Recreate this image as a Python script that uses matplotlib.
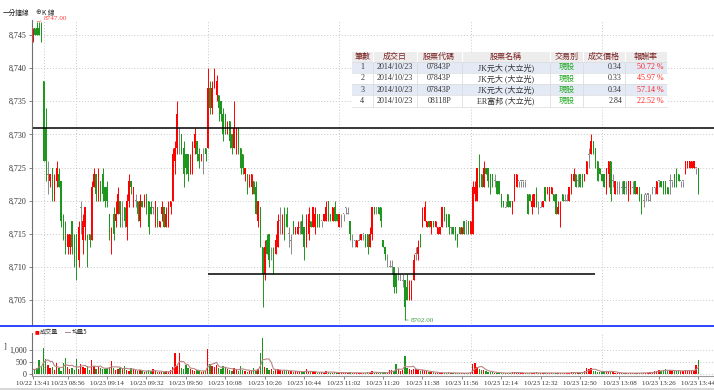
import matplotlib
matplotlib.use('Agg')
import matplotlib.pyplot as plt
from matplotlib.patches import Rectangle
import numpy as np
import pandas as pd

# ---- data: one-minute candles (5 from 10/22 close, then 10/23 08:45-13:44) ----
opens = [
    8744, 8746, 8746, 8746, 8746, 8738, 8731, 8724, 8723, 8725,
    8721, 8723, 8724, 8723, 8717, 8716, 8713, 8713, 8717, 8713,
    8715, 8711, 8719, 8714, 8716, 8714, 8715, 8714, 8722, 8724,
    8721, 8723, 8724, 8722, 8722, 8718, 8714, 8718, 8717, 8718,
    8720, 8719, 8719, 8716, 8720, 8723, 8721, 8720, 8720, 8717,
    8720, 8719, 8721, 8720, 8719, 8719, 8718, 8719, 8716, 8718,
    8719, 8716, 8717, 8719, 8720, 8726, 8728, 8730, 8730, 8728,
    8727, 8727, 8724, 8724, 8728, 8729, 8727, 8726, 8727, 8728,
    8728, 8737, 8734, 8737, 8736, 8736, 8735, 8733, 8733, 8730,
    8732, 8730, 8728, 8729, 8731, 8728, 8727, 8724, 8724, 8722,
    8722, 8723, 8722, 8717, 8719, 8713, 8709, 8714, 8715, 8712,
    8712, 8712, 8713, 8717, 8715, 8718, 8718, 8715, 8714, 8717,
    8715, 8715, 8716, 8717, 8716, 8714, 8715, 8717, 8716, 8716,
    8718, 8718, 8717, 8717, 8717, 8720, 8718, 8717, 8719, 8718,
    8716, 8717, 8718, 8719, 8718, 8717, 8714, 8714, 8713, 8714,
    8714, 8715, 8715, 8715, 8713, 8715, 8719, 8719, 8719, 8719,
    8714, 8713, 8711, 8710, 8710, 8710, 8709, 8709, 8708, 8708,
    8708, 8707, 8705, 8705, 8708, 8712, 8712, 8715, 8716, 8717,
    8716, 8717, 8716, 8717, 8716, 8715, 8715, 8716, 8719, 8718,
    8718, 8716, 8716, 8716, 8715, 8716, 8715, 8717, 8717, 8717,
    8715, 8715, 8721, 8720, 8725, 8724, 8722, 8725, 8725, 8724,
    8724, 8723, 8723, 8723, 8721, 8720, 8719, 8721, 8720, 8719,
    8720, 8722, 8723, 8723, 8723, 8723, 8721, 8721, 8719, 8719,
    8721, 8719, 8719, 8719, 8722, 8721, 8720, 8721, 8721, 8721,
    8718, 8717, 8721, 8720, 8720, 8720, 8722, 8723, 8724, 8723,
    8724, 8724, 8723, 8724, 8727, 8727, 8729, 8728, 8726, 8725,
    8724, 8724, 8723, 8724, 8726, 8723, 8721, 8722, 8722, 8722,
    8723, 8722, 8721, 8721, 8722, 8723, 8721, 8722, 8721, 8720,
    8721, 8721, 8720, 8722, 8722, 8721, 8723, 8723, 8723, 8723,
    8722, 8723, 8723, 8724, 8724, 8724, 8723, 8723, 8724, 8725,
    8725, 8725, 8725, 8725, 8725,
]
closes = [
    8746, 8745, 8745, 8745, 8745, 8726, 8726, 8724, 8724, 8722,
    8723, 8725, 8722, 8717, 8716, 8713, 8715, 8715, 8713, 8712,
    8711, 8716, 8719, 8717, 8719, 8713, 8714, 8722, 8724, 8721,
    8724, 8721, 8721, 8720, 8720, 8716, 8715, 8715, 8718, 8721,
    8718, 8719, 8717, 8720, 8723, 8722, 8722, 8720, 8718, 8720,
    8719, 8720, 8719, 8716, 8718, 8719, 8720, 8716, 8717, 8719,
    8716, 8718, 8719, 8720, 8727, 8728, 8733, 8730, 8727, 8724,
    8725, 8724, 8726, 8728, 8730, 8727, 8726, 8727, 8727, 8727,
    8737, 8734, 8737, 8739, 8738, 8734, 8733, 8730, 8731, 8731,
    8729, 8728, 8731, 8731, 8728, 8725, 8725, 8725, 8722, 8723,
    8724, 8721, 8718, 8720, 8713, 8709, 8713, 8712, 8711, 8712,
    8710, 8714, 8717, 8717, 8717, 8715, 8716, 8715, 8714, 8715,
    8716, 8716, 8716, 8715, 8713, 8717, 8718, 8716, 8719, 8718,
    8717, 8717, 8717, 8718, 8719, 8717, 8717, 8719, 8717, 8717,
    8718, 8717, 8718, 8719, 8718, 8715, 8714, 8714, 8714, 8714,
    8715, 8715, 8714, 8713, 8715, 8719, 8718, 8719, 8718, 8717,
    8713, 8712, 8711, 8710, 8710, 8707, 8707, 8709, 8708, 8708,
    8704, 8705, 8707, 8707, 8711, 8712, 8713, 8714, 8718, 8719,
    8717, 8716, 8717, 8716, 8717, 8716, 8716, 8719, 8717, 8717,
    8716, 8716, 8715, 8715, 8714, 8715, 8716, 8715, 8717, 8715,
    8717, 8722, 8722, 8725, 8723, 8722, 8725, 8724, 8723, 8722,
    8723, 8723, 8721, 8721, 8719, 8719, 8719, 8719, 8719, 8720,
    8724, 8724, 8723, 8723, 8723, 8723, 8718, 8720, 8720, 8721,
    8719, 8719, 8719, 8720, 8720, 8722, 8722, 8722, 8720, 8718,
    8719, 8719, 8720, 8720, 8720, 8722, 8724, 8724, 8722, 8723,
    8722, 8722, 8724, 8726, 8727, 8729, 8727, 8726, 8723, 8724,
    8723, 8722, 8725, 8726, 8721, 8723, 8723, 8722, 8722, 8722,
    8721, 8722, 8723, 8723, 8722, 8721, 8722, 8720, 8719, 8720,
    8721, 8721, 8720, 8722, 8722, 8723, 8723, 8722, 8721, 8721,
    8721, 8723, 8723, 8722, 8722, 8723, 8723, 8723, 8726, 8726,
    8726, 8726, 8726, 8725, 8721,
]
highs = [
    8746, 8746, 8747, 8747, 8747, 8738, 8734, 8726, 8724, 8725,
    8724, 8726, 8725, 8723, 8718, 8717, 8715, 8715, 8717, 8715,
    8715, 8717, 8720, 8718, 8719, 8715, 8715, 8723, 8725, 8724,
    8725, 8723, 8725, 8722, 8723, 8718, 8716, 8719, 8720, 8722,
    8720, 8720, 8719, 8721, 8724, 8723, 8722, 8721, 8720, 8721,
    8720, 8721, 8721, 8720, 8720, 8719, 8720, 8719, 8717, 8720,
    8719, 8719, 8720, 8720, 8728, 8729, 8735, 8731, 8730, 8729,
    8727, 8727, 8727, 8729, 8731, 8729, 8728, 8727, 8728, 8728,
    8740, 8738, 8738, 8740, 8739, 8736, 8735, 8734, 8733, 8732,
    8732, 8730, 8735, 8731, 8731, 8728, 8727, 8725, 8724, 8724,
    8724, 8723, 8723, 8720, 8719, 8713, 8714, 8715, 8715, 8713,
    8713, 8715, 8718, 8719, 8718, 8719, 8719, 8716, 8715, 8717,
    8716, 8717, 8717, 8718, 8716, 8718, 8719, 8717, 8719, 8719,
    8718, 8718, 8717, 8718, 8720, 8720, 8718, 8719, 8720, 8718,
    8718, 8718, 8718, 8719, 8719, 8717, 8715, 8714, 8714, 8715,
    8715, 8715, 8715, 8715, 8716, 8719, 8719, 8719, 8719, 8719,
    8714, 8713, 8712, 8711, 8711, 8710, 8709, 8710, 8709, 8709,
    8708, 8709, 8708, 8708, 8712, 8713, 8714, 8715, 8719, 8720,
    8717, 8717, 8717, 8717, 8717, 8716, 8716, 8719, 8719, 8718,
    8718, 8716, 8716, 8716, 8715, 8716, 8716, 8717, 8717, 8717,
    8717, 8723, 8723, 8725, 8727, 8724, 8726, 8725, 8725, 8724,
    8724, 8724, 8723, 8723, 8721, 8720, 8720, 8721, 8720, 8720,
    8724, 8724, 8723, 8723, 8723, 8723, 8721, 8721, 8721, 8721,
    8722, 8720, 8720, 8720, 8722, 8722, 8722, 8722, 8721, 8721,
    8720, 8720, 8721, 8721, 8721, 8722, 8724, 8725, 8724, 8724,
    8724, 8724, 8724, 8726, 8728, 8730, 8729, 8728, 8726, 8725,
    8724, 8724, 8725, 8726, 8726, 8724, 8723, 8723, 8723, 8723,
    8723, 8723, 8723, 8723, 8723, 8723, 8722, 8722, 8721, 8721,
    8721, 8721, 8721, 8722, 8722, 8723, 8723, 8723, 8723, 8723,
    8722, 8724, 8723, 8724, 8725, 8724, 8723, 8723, 8726, 8726,
    8726, 8726, 8726, 8725, 8725,
]
lows = [
    8744, 8745, 8745, 8745, 8744, 8726, 8723, 8721, 8722, 8720,
    8720, 8722, 8722, 8716, 8714, 8712, 8712, 8712, 8712, 8710,
    8708, 8710, 8715, 8712, 8714, 8710, 8713, 8714, 8722, 8720,
    8720, 8720, 8720, 8719, 8719, 8714, 8712, 8714, 8716, 8718,
    8716, 8716, 8716, 8714, 8719, 8721, 8719, 8719, 8717, 8716,
    8719, 8719, 8718, 8715, 8718, 8718, 8716, 8716, 8716, 8717,
    8716, 8716, 8716, 8718, 8720, 8724, 8727, 8727, 8727, 8722,
    8724, 8723, 8724, 8724, 8727, 8726, 8725, 8726, 8724, 8726,
    8728, 8733, 8733, 8737, 8735, 8732, 8732, 8729, 8730, 8730,
    8728, 8727, 8728, 8727, 8727, 8724, 8724, 8723, 8721, 8722,
    8721, 8721, 8718, 8716, 8713, 8704, 8708, 8712, 8710, 8711,
    8709, 8712, 8713, 8715, 8715, 8714, 8716, 8713, 8712, 8715,
    8715, 8715, 8715, 8715, 8711, 8713, 8714, 8716, 8716, 8715,
    8716, 8716, 8716, 8717, 8717, 8717, 8717, 8717, 8717, 8717,
    8716, 8716, 8717, 8718, 8718, 8714, 8713, 8713, 8713, 8714,
    8714, 8714, 8713, 8712, 8713, 8714, 8718, 8718, 8718, 8716,
    8713, 8711, 8710, 8710, 8709, 8706, 8706, 8708, 8708, 8707,
    8702, 8705, 8705, 8705, 8708, 8711, 8711, 8713, 8716, 8717,
    8716, 8716, 8715, 8716, 8716, 8715, 8715, 8716, 8717, 8716,
    8715, 8715, 8715, 8714, 8713, 8715, 8715, 8715, 8715, 8715,
    8715, 8715, 8720, 8720, 8722, 8722, 8722, 8724, 8722, 8721,
    8722, 8722, 8721, 8721, 8719, 8719, 8719, 8719, 8719, 8718,
    8720, 8722, 8722, 8722, 8722, 8722, 8718, 8720, 8718, 8719,
    8719, 8718, 8719, 8719, 8720, 8721, 8720, 8721, 8720, 8718,
    8718, 8716, 8720, 8720, 8720, 8720, 8721, 8723, 8722, 8722,
    8722, 8722, 8723, 8724, 8725, 8727, 8727, 8725, 8723, 8724,
    8723, 8722, 8721, 8722, 8720, 8722, 8721, 8721, 8721, 8721,
    8721, 8721, 8720, 8721, 8721, 8721, 8721, 8720, 8718, 8719,
    8720, 8720, 8720, 8721, 8721, 8721, 8722, 8722, 8721, 8721,
    8721, 8721, 8722, 8722, 8722, 8723, 8722, 8722, 8724, 8725,
    8725, 8725, 8725, 8724, 8721,
]
volumes = [
    210, 190, 260, 580, 300, 1110, 620, 390, 250, 320, 180, 460, 280, 150, 460, 690, 300, 200, 250, 180,
    640, 230, 420, 300, 260, 330, 180, 580, 350, 220, 300, 280, 240, 200, 260, 310, 540, 250, 190, 230,
    280, 200, 330, 180, 150, 250, 200, 160, 120, 180, 140, 100, 130, 160, 120, 210, 130, 90, 110, 80,
    100, 140, 90, 170, 300, 900, 350, 890, 260, 220, 390, 250, 200, 180, 120, 160, 140, 110, 150, 150,
    1060, 420, 350, 300, 380, 250, 200, 330, 300, 220, 180, 150, 260, 200, 150, 350, 160, 120, 100, 140,
    180, 260, 150, 220, 900, 1500, 320, 280, 180, 200, 150, 170, 220, 160, 130, 180, 150, 120, 140, 110,
    130, 100, 120, 90, 110, 210, 100, 80, 90, 110, 70, 80, 90, 60, 140, 80, 70, 60, 90, 70,
    60, 80, 50, 70, 60, 80, 50, 60, 70, 40, 60, 50, 60, 80, 70, 150, 60, 50, 40, 60,
    80, 90, 70, 180, 160, 120, 420, 200, 150, 180, 770, 250, 220, 180, 240, 200, 180, 150, 160, 130,
    120, 100, 90, 80, 70, 60, 50, 70, 60, 50, 80, 40, 60, 50, 40, 60, 50, 40, 50, 60,
    80, 440, 490, 300, 220, 180, 160, 120, 100, 90, 80, 70, 60, 50, 60, 50, 40, 60, 50, 100,
    90, 60, 50, 40, 50, 60, 70, 50, 40, 60, 80, 50, 40, 60, 50, 70, 60, 50, 40, 60,
    50, 60, 40, 50, 60, 70, 80, 90, 60, 50, 70, 80, 150, 250, 240, 260, 150, 120, 100, 80,
    100, 120, 150, 130, 110, 90, 60, 50, 40, 60, 50, 40, 50, 60, 50, 40, 60, 50, 70, 60,
    50, 60, 80, 100, 120, 150, 180, 130, 160, 200, 150, 180, 140, 120, 150, 170, 130, 140, 160, 150,
    180, 160, 150, 370, 580,
]

tick_labels = ['10/22 13:41', '10/23 08:56', '10/23 09:14', '10/23 09:32', '10/23 09:50',
               '10/23 10:08', '10/23 10:26', '10/23 10:44', '10/23 11:02', '10/23 11:20',
               '10/23 11:38', '10/23 11:56', '10/23 12:14', '10/23 12:32', '10/23 12:50',
               '10/23 13:08', '10/23 13:26', '10/23 13:44']
grid_times = ['10/23 08:45', '10/23 09:00', '10/23 10:00', '10/23 11:00', '10/23 12:00', '10/23 13:00']

resist_level = 8731
support_level = 8709
support_span = ('10/23 10:00', '10/23 12:57')

table_header = ['筆數', '成交日', '股票代碼', '股票名稱', '交易別', '成交價格', '報酬率']
table_rows = [
    ['1', '2014/10/23', '07843P', 'JK元大 (大立光)', '現股', '0.34', '50.72 %'],
    ['2', '2014/10/23', '07843P', 'JK元大 (大立光)', '現股', '0.33', '45.97 %'],
    ['3', '2014/10/23', '07843P', 'JK元大 (大立光)', '現股', '0.34', '57.14 %'],
    ['4', '2014/10/23', '08118P', 'ER富邦 (大立光)', '現股', '2.84', '22.52 %'],
]

# minute labels for every candle
t_prev = pd.date_range('2014-10-22 13:41', periods=5, freq='min')
t_day = pd.date_range('2014-10-23 08:45', '2014-10-23 13:44', freq='min')
times = [t.strftime('%m/%d %H:%M') for t in t_prev.append(t_day)]
pos = {t: i for i, t in enumerate(times)}

RED, GREEN, GRAY = '#ff0000', '#1c961c', '#8a8a8a'
TICKFONT = ['Liberation Serif', 'DejaVu Sans']
CJK = ['Noto Sans CJK TC', 'DejaVu Sans']
TABFONT = ['Liberation Serif', 'Noto Sans CJK TC', 'DejaVu Sans']

W, H = 714, 390
fig = plt.figure(figsize=(W / 100, H / 100), dpi=100)
fig.patch.set_facecolor('white')


def box(l, t, r, b):
    return [l / W, 1 - b / H, (r - l) / W, (b - t) / H]


ax = fig.add_axes(box(31.7, 20, 714, 326))
axv = fig.add_axes(box(31.7, 333, 714, 376))

o = np.array(opens)
c = np.array(closes)
x = np.arange(len(o))
cols = np.where(c > o, RED, np.where(c < o, GREEN, GRAY))

# candles
ax.vlines(x, lows, highs, colors=cols, linewidth=0.7)
flat = c == o
body_b = np.minimum(o, c) - np.where(flat, 0.08, 0)
body_h = np.where(flat, 0.16, np.abs(c - o))
ax.bar(x, body_h, bottom=body_b, width=0.62, color=cols, linewidth=0)

xmax = (714 - 31.7) / 2.19 - 0.4
ax.set_xlim(-0.4, xmax)
ax.set_ylim(8701.08, 8747.26)
ax.set_yticks(range(8705, 8746, 5))
ax.set_yticklabels([f'{v:,}' for v in range(8705, 8746, 5)])
ax.set_xticks([])
ax.yaxis.grid(True, linestyle=(0, (1, 2)), color='#c8c8c8', linewidth=0.7)
ax.set_axisbelow(True)
for t in grid_times:
    ax.axvline(pos[t], linestyle=(0, (1, 2)), color='#c8c8c8', linewidth=0.7, zorder=0)
for s in ['top', 'right', 'bottom']:
    ax.spines[s].set_visible(False)
ax.spines['left'].set_color('#707070')
ax.tick_params(axis='y', length=2, width=0.6, color='#707070', pad=1.5,
               labelsize=5.8, labelcolor='#333333')
for lab in ax.get_yticklabels():
    lab.set_fontfamily(TICKFONT)

ax.axhline(resist_level, color='black', linewidth=1.1)
ax.hlines(support_level, pos[support_span[0]], pos[support_span[1]], color='black', linewidth=1.1)

# high / low labels
ih = int(np.argmax(highs))
ax.annotate(f'{highs[ih]:.2f}', xy=(ih, highs[ih]), xytext=(5, 2.5), textcoords='offset points',
            fontsize=5.2, color='#ff4040', va='center', ha='left', family=TICKFONT,
            arrowprops=dict(arrowstyle='-', color='#ff6060', lw=0.5, shrinkA=0, shrinkB=0),
            annotation_clip=False)
il = int(np.argmin(lows))
ax.annotate(f'{lows[il]:.2f}', xy=(il, lows[il]), xytext=(4.5, -0.6), textcoords='offset points',
            fontsize=5.2, color='#40a040', va='center', ha='left', family=TICKFONT,
            arrowprops=dict(arrowstyle='-', color='#50a050', lw=0.5, shrinkA=0, shrinkB=0),
            annotation_clip=False)

# volume panel
v = np.array(volumes)
vcols = np.where(c >= o, RED, GREEN)
axv.bar(x, v, width=0.62, color=vcols, linewidth=0)
ma5 = pd.Series(v).rolling(5, min_periods=1).mean()
axv.plot(x, ma5, color='#b98585', linewidth=0.8)
axv.set_xlim(-0.4, xmax)
axv.set_ylim(-71, 1721)
axv.set_yticks([0, 500, 1000])
axv.set_yticklabels(['0', '500', '1,000'])
axv.set_xticks([pos[t] for t in tick_labels])
axv.set_xticklabels(tick_labels)
axv.yaxis.grid(True, linestyle=(0, (1, 2)), color='#c8c8c8', linewidth=0.7)
axv.set_axisbelow(True)
for t in grid_times:
    axv.axvline(pos[t], linestyle=(0, (1, 2)), color='#c8c8c8', linewidth=0.7, zorder=0)
for s in ['top', 'right']:
    axv.spines[s].set_visible(False)
axv.spines['left'].set_color('#707070')
axv.spines['bottom'].set_color('#9a9a9a')
axv.tick_params(axis='y', length=2, width=0.6, color='#707070', pad=1.5, labelsize=5.8,
                labelcolor='#333333')
axv.tick_params(axis='x', length=2, width=0.6, color='#707070', pad=1.5, labelsize=5,
                labelcolor='#333333')
for lab in axv.get_xticklabels() + axv.get_yticklabels():
    lab.set_fontfamily(TICKFONT)

# overlay in pixel coordinates for frame pieces, titles and the trade table
ov = fig.add_axes([0, 0, 1, 1])
ov.set_xlim(0, W)
ov.set_ylim(H, 0)
ov.axis('off')
ov.set_zorder(5)

ov.plot([0, W], [326, 326], color='#2b46ff', linewidth=1.4)
ov.plot([0, W], [388.5, 388.5], color='#cfcfcf', linewidth=1.2)
ov.text(3, 12.5, '一分鐘線', fontsize=4.8, family=CJK, va='center', color='#222222')
ov.text(35, 12.5, '⊕', fontsize=4.8, family=['DejaVu Sans'], va='center', color='#333333')
ov.text(42, 12.5, 'K 線', fontsize=4.8, family=CJK, va='center', color='#222222')

ov.text(34.5, 331.5, '■', fontsize=3.6, family=['DejaVu Sans'], va='center', color=RED)
ov.text(40, 331.5, '成交量', fontsize=4.4, family=CJK, va='center', color='#333333')
ov.plot([65, 70], [331.5, 331.5], color='#b98585', linewidth=0.7)
ov.text(72, 331.5, '均量5', fontsize=4.4, family=CJK, va='center', color='#333333')
ov.text(3, 346, ']', fontsize=5, family=['DejaVu Sans'], va='center', color='#333333')

# trade table
col_edges = [351.7, 372.7, 416.7, 461.7, 550, 583.3, 625, 666.7]
row_edges = [51.5, 61.5, 72.5, 83.8, 95, 106.5]
aligns = ['center', 'center', 'center', 'center', 'center', 'right', 'right']
ov.add_patch(Rectangle((col_edges[0], row_edges[0]), col_edges[-1] - col_edges[0],
                       row_edges[-1] - row_edges[0], facecolor='white', edgecolor='none', zorder=1))
ov.add_patch(Rectangle((col_edges[0], row_edges[0]), col_edges[-1] - col_edges[0],
                       row_edges[1] - row_edges[0], facecolor='#ededed', edgecolor='none', zorder=1))
for r in range(len(table_rows)):
    if r % 2 == 0:
        ov.add_patch(Rectangle((col_edges[0], row_edges[r + 1]), col_edges[-1] - col_edges[0],
                               row_edges[r + 2] - row_edges[r + 1], facecolor='#e3e9f5',
                               edgecolor='none', zorder=1))
for xe in col_edges[1:-1]:
    ov.plot([xe, xe], [row_edges[0], row_edges[1]], color='#ffffff', linewidth=0.8, zorder=2)
    ov.plot([xe, xe], [row_edges[1], row_edges[-1]], color='#d8d8d8', linewidth=0.5, zorder=2)
for ye in row_edges[1:]:
    ov.plot([col_edges[0], col_edges[-1]], [ye, ye], color='#dcdcdc', linewidth=0.5, zorder=2)


def cell_x(j):
    if aligns[j] == 'right':
        return col_edges[j + 1] - 3
    return (col_edges[j] + col_edges[j + 1]) / 2


for j, h in enumerate(table_header):
    ov.text((col_edges[j] + col_edges[j + 1]) / 2, (row_edges[0] + row_edges[1]) / 2 + 0.3, h,
            fontsize=5.8, family=CJK, ha='center', va='center', color='#7a2020', zorder=3)
for r, row in enumerate(table_rows):
    yc = (row_edges[r + 1] + row_edges[r + 2]) / 2 + 0.3
    for j, val in enumerate(row):
        color = '#333333'
        if j == 4:
            color = '#22aa22'
        elif j == 6:
            color = '#ff2020'
        ov.text(cell_x(j), yc, val, fontsize=5.8, family=TABFONT, ha=aligns[j], va='center',
                color=color, zorder=3)

fig.savefig('out.png', dpi=100, facecolor='white')
